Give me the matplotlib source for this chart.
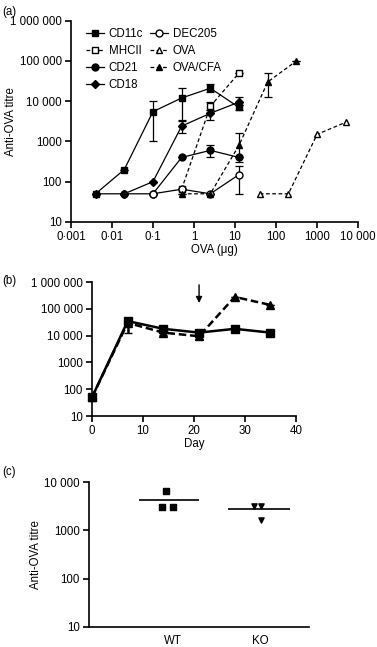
import numpy as np
import matplotlib
matplotlib.use("Agg")
import matplotlib.pyplot as plt
from matplotlib.lines import Line2D

# ---- panel (a): dose response ----
dose = [0.004, 0.02, 0.1, 0.5, 2.5, 12.5]
cd11c = [50, 200, 5500, 12000, 21000, 7000]
cd11c_lo = [0, 0, 4500, 8500, 4000, 1000]
cd11c_hi = [0, 0, 4500, 9000, 6000, 1000]
cd18 = [50, 50, 100, 2400, 5000, 9500]
cd18_lo = [0, 0, 0, 800, 1500, 1500]
cd18_hi = [0, 0, 0, 900, 1000, 3000]
cd21 = [np.nan, 50, 50, 400, 600, 400]
cd21_lo = [0, 0, 0, 0, 180, 0]
cd21_hi = [0, 0, 0, 0, 200, 0]
dec205 = [np.nan, np.nan, 50, 65, 50, 150]
dec205_lo = [0, 0, 0, 0, 0, 100]
dec205_hi = [0, 0, 0, 0, 0, 100]
mhc_dose = [0.5, 2.5, 12.5]
mhcii = [65, 7500, 50000]
mhcii_lo = [0, 1500, 0]
mhcii_hi = [0, 2000, 0]
cfa_dose = [0.5, 2.5, 12.5, 62.5, 312.5]
ova_cfa = [50, 50, 800, 30000, 100000]
ova_cfa_lo = [0, 0, 500, 17000, 0]
ova_cfa_hi = [0, 0, 800, 20000, 0]
ova_dose = [40, 200, 1000, 5000]
ova = [50, 50, 1500, 3000]

# ---- panel (b): time course ----
day = [0, 7, 14, 21, 28, 35]
b_square = [50, 35000, 18000, 13000, 18000, 13000]
b_square_lo = [0, 7000, 3000, 2000, 2000, 1500]
b_square_hi = [0, 10000, 3000, 2000, 3000, 1500]
b_tri = [50, 30000, 13000, 9500, 280000, 140000]
b_tri_lo = [0, 17000, 2000, 2000, 0, 0]
b_tri_hi = [0, 5000, 2000, 2000, 0, 0]

# ---- panel (c): WT vs KO ----
groups = ["WT", "KO"]
wt_vals = [6400, 3100, 3100]
ko_vals = [3200, 3200, 1600]
wt_mean = 4200
ko_mean = 2700

fs = 8.3
plt.rcParams['font.family'] = ['Liberation Sans', 'DejaVu Sans']
fig = plt.figure(figsize=(3.77, 6.47), dpi=100)


def style(ax):
    for s in ["top", "right"]:
        ax.spines[s].set_visible(False)
    for s in ["left", "bottom"]:
        ax.spines[s].set_linewidth(1.2)
    ax.tick_params(which="major", length=4, width=1.2, labelsize=fs, direction="out", pad=2.5)
    ax.tick_params(which="minor", length=0)


def ylog_labels(ax, ticks):
    ax.set_yticks(ticks)
    ax.set_yticklabels(["1 000 000" if t == 1e6 else "100 000" if t == 1e5 else
                        "10 000" if t == 1e4 else str(int(t)) for t in ticks])


# panel a
axa = fig.add_axes([0.188, 0.657, 0.762, 0.311])
ms = 5
dash = (0, (3, 2))
eb = dict(capsize=3, elinewidth=0.9, capthick=0.9, color="black", clip_on=False)
axa.errorbar(dose, cd11c, yerr=[cd11c_lo, cd11c_hi], marker="s", ms=ms, lw=0.9, ls="-", **eb)
axa.errorbar(mhc_dose, mhcii, yerr=[mhcii_lo, mhcii_hi], marker="s", ms=ms, mfc="white", lw=0.9, ls=dash, **eb)
axa.errorbar(dose, cd21, yerr=[cd21_lo, cd21_hi], marker="o", ms=ms, lw=0.9, ls="-", **eb)
axa.errorbar(dose, cd18, yerr=[cd18_lo, cd18_hi], marker="D", ms=4, lw=0.9, ls="-", **eb)
axa.errorbar(dose, dec205, yerr=[dec205_lo, dec205_hi], marker="o", ms=ms, mfc="white", lw=0.9, ls="-", **eb)
axa.errorbar(ova_dose, ova, marker="^", ms=ms, mfc="white", lw=0.9, ls=dash, **eb)
axa.errorbar(cfa_dose, ova_cfa, yerr=[ova_cfa_lo, ova_cfa_hi], marker="^", ms=ms, lw=0.9, ls=dash, **eb)
axa.set_xscale("log")
axa.set_yscale("log")
axa.set_xlim(0.001, 10000)
axa.set_ylim(10, 1e6)
style(axa)
axa.set_xticks([1e-3, 1e-2, 1e-1, 1, 10, 100, 1000, 10000])
axa.set_xticklabels(["0·001", "0·01", "0·1", "1", "10", "100", "1000", "10 000"])
ylog_labels(axa, [10, 100, 1000, 1e4, 1e5, 1e6])
axa.set_xlabel("OVA (μg)", fontsize=fs, labelpad=1)
axa.set_ylabel("Anti-OVA titre", fontsize=fs)
axa.yaxis.set_label_coords(-0.188, 0.5)

handles = [
    Line2D([], [], color="black", lw=0.9, marker="s", ms=ms, label="CD11c"),
    Line2D([], [], color="black", lw=0.9, ls=dash, marker="s", ms=ms, mfc="white", label="MHCII"),
    Line2D([], [], color="black", lw=0.9, marker="o", ms=ms, label="CD21"),
    Line2D([], [], color="black", lw=0.9, marker="D", ms=4, label="CD18"),
    Line2D([], [], color="black", lw=0.9, marker="o", ms=ms, mfc="white", label="DEC205"),
    Line2D([], [], color="black", lw=0.9, ls=dash, marker="^", ms=ms, mfc="white", label="OVA"),
    Line2D([], [], color="black", lw=0.9, ls=dash, marker="^", ms=ms, label="OVA/CFA"),
]
axa.legend(handles=handles, ncol=2, loc="upper left", bbox_to_anchor=(0.035, 0.985), frameon=False,
           fontsize=fs, handlelength=1.6, handletextpad=0.4, columnspacing=0.6, labelspacing=0.42,
           borderaxespad=0)

# panel b
axb = fig.add_axes([0.244, 0.357, 0.541, 0.207])
axb.errorbar(day, b_square, yerr=[b_square_lo, b_square_hi], marker="s", ms=5.5, lw=1.8, ls="-",
             capsize=3, color="black", clip_on=False)
axb.errorbar(day, b_tri, yerr=[b_tri_lo, b_tri_hi], marker="^", ms=6, lw=1.8, ls=(0, (3, 1.5)),
             capsize=3, color="black", clip_on=False)
axb.annotate("", xy=(21, 1.3e5), xytext=(21, 1e6),
             arrowprops=dict(arrowstyle="-|>", color="black", lw=1, mutation_scale=9))
axb.set_yscale("log")
axb.set_xlim(0, 40)
axb.set_ylim(10, 1e6)
style(axb)
axb.set_xticks([0, 10, 20, 30, 40])
ylog_labels(axb, [10, 100, 1000, 1e4, 1e5, 1e6])
axb.set_xlabel("Day", fontsize=fs, labelpad=1)

# panel c
axc = fig.add_axes([0.236, 0.031, 0.584, 0.224])
axc.scatter([0.93, 0.88, 1.0], wt_vals, marker="s", s=14, color="black")
axc.scatter([1.92, 2.0, 2.0], ko_vals, marker="v", s=14, color="black")
axc.hlines(wt_mean, 0.62, 1.3, color="black", lw=1.2)
axc.hlines(ko_mean, 1.63, 2.33, color="black", lw=1.2)
axc.set_yscale("log")
axc.set_xlim(0.05, 2.55)
axc.set_ylim(10, 1e4)
style(axc)
axc.set_xticks([1, 2])
axc.set_xticklabels(groups)
axc.tick_params(axis="x", length=0, pad=6)
ylog_labels(axc, [10, 100, 1000, 1e4])
axc.set_ylabel("Anti-OVA titre", fontsize=fs)
axc.yaxis.set_label_coords(-0.214, 0.5)

fig.text(0.005, 0.99, "(a)", fontsize=fs, va="top")
fig.text(0.005, 0.575, "(b)", fontsize=fs, va="top")
fig.text(0.005, 0.28, "(c)", fontsize=fs, va="top")

fig.savefig("out.png", dpi=100)
